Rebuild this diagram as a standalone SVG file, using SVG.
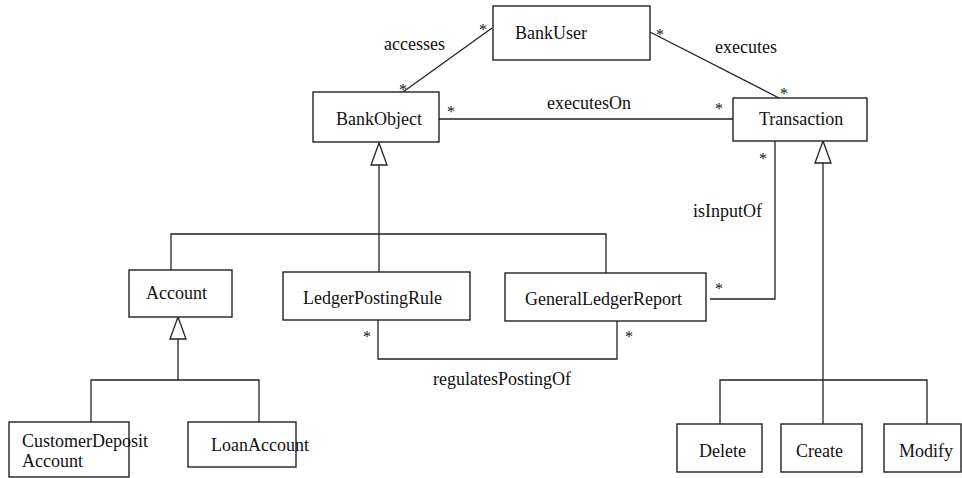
<svg xmlns="http://www.w3.org/2000/svg" width="962" height="478" viewBox="0 0 962 478">
  <style>
    .box { fill: #ffffff; stroke: #222; stroke-width: 1.4; }
    .lbl { font-family: "Liberation Serif", "Times New Roman", serif; font-size: 18px; fill: #111; }
    .mult { font-family: "Liberation Serif", "Times New Roman", serif; font-size: 16px; fill: #111; }
    .conn { fill: none; stroke: #222; stroke-width: 1.3; }
    .gen { fill: #ffffff; stroke: #222; stroke-width: 1.3; }
  </style>
  <defs>
    <!-- hollow generalization arrowhead, apex at origin pointing up -->
    <polygon id="genHead" class="gen" points="0,0 -8,22 8,22"/>
  </defs>
  <rect width="962" height="478" fill="#ffffff"/>

  <g id="connectors">
    <!-- associations -->
    <line class="conn" x1="492" y1="28" x2="403" y2="92"/>
    <line class="conn" x1="650" y1="32" x2="779" y2="98"/>
    <line class="conn" x1="439" y1="119" x2="733" y2="119"/>
    <polyline class="conn" points="775,141 775,299 710,299"/>
    <polyline class="conn" points="378,320 378,359 617,359 617,321"/>
    <!-- BankObject generalization -->
    <line class="conn" x1="379" y1="165" x2="379" y2="272"/>
    <polyline class="conn" points="171,270 171,234 606,234 606,273"/>
    <use href="#genHead" x="379" y="143"/>
    <!-- Account generalization -->
    <line class="conn" x1="178" y1="339" x2="178" y2="380"/>
    <polyline class="conn" points="91,422 91,380 259,380 259,422"/>
    <use href="#genHead" x="178" y="317"/>
    <!-- Transaction generalization -->
    <line class="conn" x1="823" y1="163" x2="823" y2="424"/>
    <polyline class="conn" points="720,424 720,380 927,380 927,424"/>
    <use href="#genHead" x="823" y="141"/>
  </g>

  <g id="labels">
    <text class="lbl" x="384" y="50">accesses</text>
    <text class="lbl" x="715" y="53">executes</text>
    <text class="lbl" x="547" y="109">executesOn</text>
    <text class="lbl" x="693" y="217">isInputOf</text>
    <text class="lbl" x="433" y="385">regulatesPostingOf</text>
    <text class="mult" x="479" y="35">*</text>
    <text class="mult" x="399" y="95">*</text>
    <text class="mult" x="656" y="40">*</text>
    <text class="mult" x="780" y="99">*</text>
    <text class="mult" x="447" y="117">*</text>
    <text class="mult" x="715" y="114">*</text>
    <text class="mult" x="759" y="164">*</text>
    <text class="mult" x="715" y="294">*</text>
    <text class="mult" x="363" y="342">*</text>
    <text class="mult" x="625" y="342">*</text>
  </g>

  <g id="BankUser">
    <rect class="box" x="493" y="6" width="157" height="54"/>
    <text class="lbl" x="515" y="39">BankUser</text>
  </g>
  <g id="BankObject">
    <rect class="box" x="313" y="92" width="126" height="50"/>
    <text class="lbl" x="336" y="125">BankObject</text>
  </g>
  <g id="Transaction">
    <rect class="box" x="733" y="98" width="134" height="43"/>
    <text class="lbl" x="759" y="125">Transaction</text>
  </g>
  <g id="Account">
    <rect class="box" x="129" y="270" width="103" height="47"/>
    <text class="lbl" x="146" y="299">Account</text>
  </g>
  <g id="LedgerPostingRule">
    <rect class="box" x="283" y="272" width="187" height="48"/>
    <text class="lbl" x="303" y="304">LedgerPostingRule</text>
  </g>
  <g id="GeneralLedgerReport">
    <rect class="box" x="505" y="273" width="201" height="48"/>
    <text class="lbl" x="525" y="305">GeneralLedgerReport</text>
  </g>
  <g id="CustomerDepositAccount">
    <rect class="box" x="9" y="422" width="120" height="55"/>
    <text class="lbl" x="22" y="447">CustomerDeposit</text>
    <text class="lbl" x="22" y="467">Account</text>
  </g>
  <g id="LoanAccount">
    <rect class="box" x="188" y="422" width="108" height="45"/>
    <text class="lbl" x="211" y="451">LoanAccount</text>
  </g>
  <g id="Delete">
    <rect class="box" x="677" y="424" width="85" height="48"/>
    <text class="lbl" x="699" y="457">Delete</text>
  </g>
  <g id="Create">
    <rect class="box" x="781" y="424" width="81" height="48"/>
    <text class="lbl" x="796" y="457">Create</text>
  </g>
  <g id="Modify">
    <rect class="box" x="884" y="424" width="77" height="48"/>
    <text class="lbl" x="899" y="457">Modify</text>
  </g>
</svg>
